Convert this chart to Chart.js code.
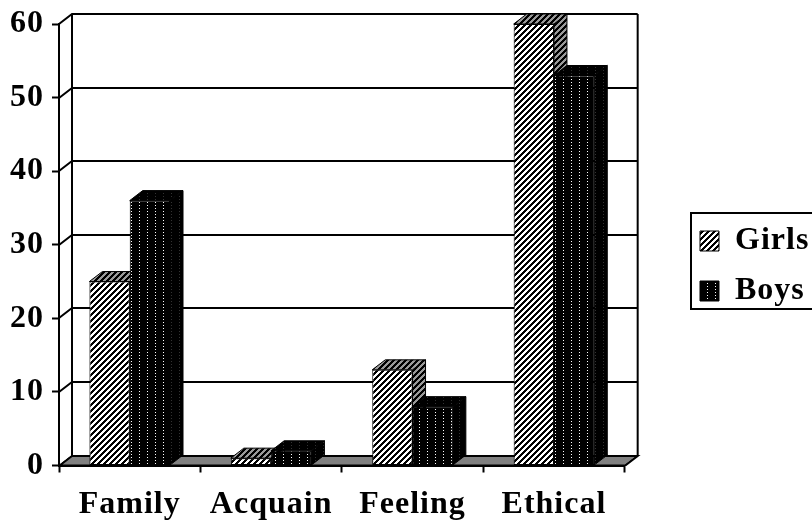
<!DOCTYPE html>
<html>
<head>
<meta charset="utf-8">
<script src="https://cdn.jsdelivr.net/npm/chart.js@4"></script>
<style>
  html, body { margin: 0; background: #fff; }
  canvas { display: block; }
</style>
</head>
<body>
<canvas id="chart" width="812" height="520"></canvas>
<script>
const categories = ['Family', 'Acquain', 'Feeling', 'Ethical'];
const girlsValues = [25, 1, 13, 60];
const boysValues = [36, 2, 8, 53];
const yTicks = [0, 10, 20, 30, 40, 50, 60];

const FONT = '"Liberation Serif", "Times New Roman", serif';
const DEPTH_X = 13;
const DEPTH_Y = 10;

// Fill patterns for the bars
function makeTile(w, h, draw) {
    const c = document.createElement('canvas');
    c.width = w;
    c.height = h;
    draw(c.getContext('2d'));
    return c.getContext('2d').createPattern(c, 'repeat');
}

// pixel staircase, no antialiasing so the hatch stays crisp
function stripes(fg) {
    return makeTile(6, 6, (g) => {
        g.fillStyle = '#000';
        g.fillRect(0, 0, 6, 6);
        g.fillStyle = fg;
        for (let y = 0; y < 6; y++) {
            for (let k = 0; k < 3; k++) {
                g.fillRect((5 - y + k) % 6, y, 1, 1);
            }
        }
    });
}

function dots(dot) {
    return makeTile(8, 3, (g) => {
        g.fillStyle = '#000';
        g.fillRect(0, 0, 8, 3);
        g.fillStyle = dot;
        g.fillRect(3, 1, 1, 1);
    });
}

const girlsFront = stripes('#fff');
const girlsShade = stripes('#999');
const boysFront = dots('#fff');
const boysShade = dots('#333');
const shades = [girlsShade, boysShade];

function poly(ctx, pts, fill) {
    ctx.beginPath();
    pts.forEach((p, i) => (i ? ctx.lineTo(p[0], p[1]) : ctx.moveTo(p[0], p[1])));
    ctx.closePath();
    ctx.fillStyle = fill;
    ctx.fill();
    ctx.strokeStyle = '#000';
    ctx.lineWidth = 1;
    ctx.stroke();
}

// Back wall, gridlines, floor and the side/top faces of the bars
const box3d = {
    id: 'box3d',
    beforeLayout(chart) {
        chart.ctx.letterSpacing = '1px';
    },
    afterLayout(chart) {
        const legend = chart.legend;
        legend.left = 682;
        legend.right = 812;
        legend.top -= 6;
        legend.bottom -= 6;
    },
    beforeDatasetsDraw(chart) {
        const { ctx, chartArea: a, scales: { y } } = chart;
        ctx.save();
        poly(ctx, [[a.left, a.bottom], [a.left + DEPTH_X, a.bottom - DEPTH_Y],
            [a.right + DEPTH_X, a.bottom - DEPTH_Y], [a.right, a.bottom]], '#808080');
        ctx.lineWidth = 2;
        ctx.strokeStyle = '#000';
        ctx.beginPath();
        yTicks.forEach((v) => {
            const py = Math.round(y.getPixelForValue(v));
            ctx.moveTo(a.left, py);
            ctx.lineTo(a.left + DEPTH_X, py - DEPTH_Y);
            ctx.lineTo(a.right + DEPTH_X, py - DEPTH_Y);
            if (v === 0) ctx.lineTo(a.right, py);
        });
        ctx.moveTo(a.left + DEPTH_X, a.top - DEPTH_Y);
        ctx.lineTo(a.left + DEPTH_X, a.bottom - DEPTH_Y);
        ctx.moveTo(a.right + DEPTH_X, a.top - DEPTH_Y);
        ctx.lineTo(a.right + DEPTH_X, a.bottom - DEPTH_Y);
        ctx.moveTo(a.left, a.bottom);
        ctx.lineTo(a.right, a.bottom);
        ctx.stroke();

        // girls first so the boys' faces cover them
        [0, 1].forEach((i) => {
            chart.getDatasetMeta(i).data.forEach((bar) => {
                const l = bar.x - bar.width / 2;
                const r = bar.x + bar.width / 2;
                poly(ctx, [[r, bar.y], [r + DEPTH_X, bar.y - DEPTH_Y],
                    [r + DEPTH_X, bar.base - DEPTH_Y], [r, bar.base]], shades[i]);
                poly(ctx, [[l, bar.y], [l + DEPTH_X, bar.y - DEPTH_Y],
                    [r + DEPTH_X, bar.y - DEPTH_Y], [r, bar.y]], shades[i]);
            });
        });
        ctx.restore();
    },
    afterDraw(chart) {
        const { ctx } = chart;
        ctx.save();
        ctx.strokeStyle = '#000';
        ctx.lineWidth = 2;
        ctx.beginPath();
        ctx.moveTo(830, 213);
        ctx.lineTo(691, 213);
        ctx.lineTo(691, 309);
        ctx.lineTo(830, 309);
        ctx.stroke();
        ctx.restore();
    }
};

new Chart(document.getElementById('chart'), {
    type: 'bar',
    data: {
        labels: categories,
        datasets: [
            { label: 'Girls', data: girlsValues, backgroundColor: girlsFront },
            { label: 'Boys', data: boysValues, backgroundColor: boysFront }
        ]
    },
    options: {
        responsive: false,
        animation: false,
        layout: { padding: { top: 24, left: 0, right: 50, bottom: 0 } },
        datasets: {
            bar: {
                barPercentage: 1,
                categoryPercentage: 0.57,
                borderColor: '#000',
                borderWidth: 1,
                borderSkipped: false
            }
        },
        scales: {
            x: {
                afterFit(scale) {
                    scale.height = 54.5;
                    scale.paddingLeft = 0;
                    scale.paddingRight = 0;
                },
                border: { display: true, color: '#000', width: 2 },
                grid: { drawOnChartArea: false, drawTicks: true, tickLength: 7, tickColor: '#000', tickWidth: 2 },
                ticks: { color: '#000', padding: 13, maxRotation: 0, autoSkip: false,
                    font: { family: FONT, size: 32, weight: 'bold' } }
            },
            y: {
                min: 0,
                max: 60,
                afterFit(scale) {
                    scale.width = 59;
                    scale.paddingTop = 0;
                    scale.paddingBottom = 0;
                },
                afterBuildTicks(scale) { scale.ticks = yTicks.map((v) => ({ value: v })); },
                border: { display: true, color: '#000', width: 2 },
                grid: { drawOnChartArea: false, drawTicks: true, tickLength: 7, tickColor: '#000', tickWidth: 2 },
                ticks: { color: '#000', padding: 8,
                    font: { family: FONT, size: 32, weight: 'bold' } }
            }
        },
        plugins: {
            tooltip: { enabled: false },
            legend: {
                position: 'right',
                labels: {
                    color: '#000',
                    boxWidth: 19,
                    boxHeight: 20,
                    padding: 18,
                    font: { family: FONT, size: 32, weight: 'bold' }
                }
            }
        }
    },
    plugins: [box3d]
});
</script>
</body>
</html>
